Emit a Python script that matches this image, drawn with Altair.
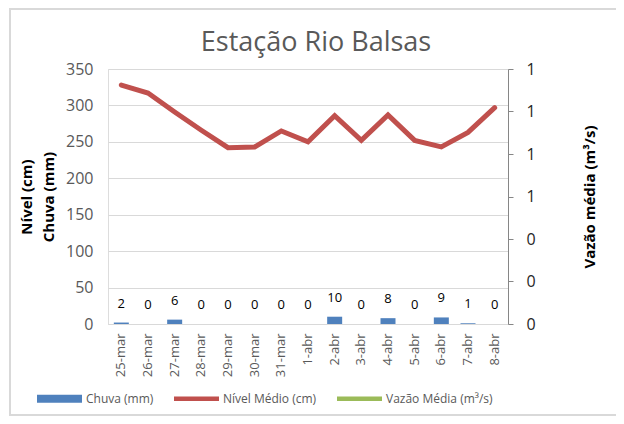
import altair as alt
import pandas as pd

dias = ["25-mar", "26-mar", "27-mar", "28-mar", "29-mar", "30-mar", "31-mar",
        "1-abr", "2-abr", "3-abr", "4-abr", "5-abr", "6-abr", "7-abr", "8-abr"]
chuva = [2, 0, 6, 0, 0, 0, 0, 0, 10, 0, 8, 0, 9, 1, 0]
nivel = [328, 317, 291, 266, 242, 243, 265, 250, 286, 252, 287, 252, 243, 263, 297]
vazao = [None] * 15
series = ["Chuva (mm)", "Nível Médio (cm)", "Vazão Média (m³/s)"]
series_colors = ["#4f81bd", "#c0504d", "#9bbb59"]

df = pd.DataFrame({"dia": dias, "chuva": chuva, "nivel": nivel, "vazao": vazao})
leg = pd.DataFrame({"serie": series})

FONT = "Open Sans"
xenc = alt.X("dia:N", sort=dias, title=None,
             scale=alt.Scale(paddingInner=0.0, paddingOuter=0.0),
             axis=alt.Axis(labelAngle=-90, labelFontSize=13, labelColor="#595959",
                           labelFont=FONT, labelPadding=9, ticks=False,
                           domainColor="#d9d9d9"))

yscale = alt.Scale(domain=[0, 350])
yaxis = alt.Axis(values=[0, 50, 100, 150, 200, 250, 300, 350], labelOverlap=False,
                 labelFontSize=16, labelColor="#595959", labelFont=FONT,
                 labelPadding=15, ticks=False, domain=False,
                 gridColor="#d9d9d9", titleFont=FONT, titleFontSize=15,
                 titleFontWeight="bold", titleColor="#000000",
                 titlePadding=9, titleLineHeight=22, titleAngle=270)
ytitle = ["Nível (cm)", "Chuva (mm)"]

# outer chart frame (decoration only)
frame = alt.Chart(leg).mark_rect(fill=None, stroke="#d9d9d9", strokeWidth=2).encode(
    x=alt.value(-98), x2=alt.value(560), y=alt.value(-60), y2=alt.value(346))

bars = alt.Chart(df).mark_bar(size=15, color="#4f81bd").encode(
    x=xenc, y=alt.Y("chuva:Q", scale=yscale, axis=yaxis, title=ytitle))
texts = alt.Chart(df).mark_text(dy=-19, fontSize=13, font=FONT, color="#000000",
                                baseline="middle").encode(
    x=xenc, y=alt.Y("chuva:Q", scale=yscale, axis=yaxis, title=ytitle),
    text="chuva:Q")
line = alt.Chart(df).mark_line(color="#c0504d", strokeWidth=5, strokeCap="round",
                               strokeJoin="miter").encode(
    x=xenc, y=alt.Y("nivel:Q", scale=yscale, axis=yaxis, title=ytitle))

left = alt.layer(line, bars, texts)

vz = alt.Chart(df).mark_line(color="#9bbb59", strokeWidth=4.5).encode(
    x=xenc,
    y=alt.Y("vazao:Q", title="Vazão média (m³/s)",
            scale=alt.Scale(domain=[0, 1.2]),
            axis=alt.Axis(orient="right", values=[0, 0.2, 0.4, 0.6, 0.8, 1.0, 1.2],
                          format=".0f", labelFontSize=16, labelColor="#262626",
                          labelFont=FONT, labelPadding=13, tickSize=5,
                          tickColor="#868686", domainColor="#868686", grid=False,
                          titleFont=FONT, titleFontSize=15, titleFontWeight="bold",
                          titleColor="#000000", titlePadding=62, titleAngle=270)))

legend_layer = alt.Chart(leg).mark_point(filled=True, opacity=0).encode(
    color=alt.Color("serie:N",
                    scale=alt.Scale(domain=series, range=series_colors),
                    legend=alt.Legend(title=None, orient="none", direction="horizontal",
                                      legendX=-71, legendY=307, symbolSize=2025,
                                      symbolOpacity=1, symbolStrokeWidth=0,
                                      labelFontSize=12, labelFont=FONT,
                                      labelColor="#595959", labelOffset=4,
                                      columnPadding=20)),
    shape=alt.Shape("serie:N",
                    scale=alt.Scale(domain=series,
                                    range=["M-1,-0.18H1V0.18H-1Z",
                                           "M-1,-0.1H1V0.1H-1Z",
                                           "M-1,-0.1H1V0.1H-1Z"]),
                    legend=None))

chart = alt.layer(frame, left, vz, legend_layer).resolve_scale(
    y="independent"
).properties(
    width=400, height=255,
    title=alt.TitleParams("Estação Rio Balsas", fontSize=27, font=FONT,
                          color="#595959", fontWeight="normal", offset=-49, dx=8,
                          frame="group", anchor="middle"),
    autosize=alt.AutoSizeParams(type="none"),
    padding={"left": 100, "top": 61, "right": 108, "bottom": 92},
).configure_view(stroke=None).configure(background="white")

chart.save("out.html", embed_options={"renderer": "svg", "actions": False})
